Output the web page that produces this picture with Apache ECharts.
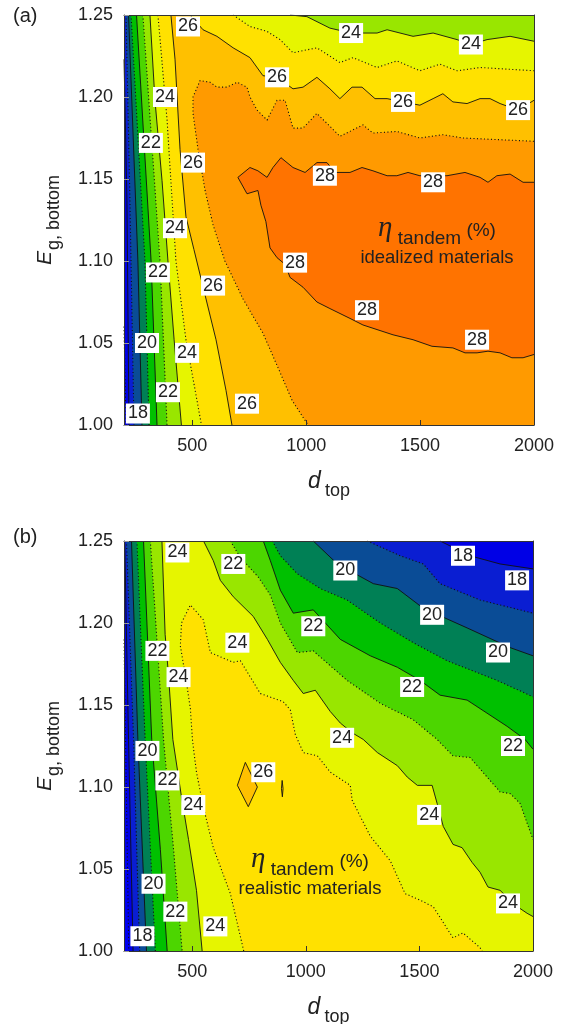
<!DOCTYPE html>
<html>
<head>
<meta charset="utf-8">
<script src="https://cdn.jsdelivr.net/npm/echarts@6/dist/echarts.min.js"></script>
<style>
html,body{margin:0;padding:0;background:#fff}
#main{width:568px;height:1024px}
</style>
</head>
<body>
<div id="main"></div>
<script>
// colour of each 1 % band, keyed by its lower bound
var bandColors = {16:'#0000f0',17:'#0000e6',18:'#0a1ed2',19:'#0a4c96',20:'#008055',21:'#00c000',
                  22:'#4cd600',23:'#99e600',24:'#e6f500',25:'#ffe100',26:'#ffc000',27:'#ff9a00',28:'#ff7300'};
var xTicks = [500, 1000, 1500, 2000];
var yTicks = [1.00, 1.05, 1.10, 1.15, 1.20, 1.25];
var X0 = 200, X1 = 2000, Y0 = 1.00, Y1 = 1.25;

// ---- (a) idealized materials: contour lines [d_top, Eg] ----
var a17 = [[200,1.06],[209,1.00]];
var a18 = [[200,1.223],[213,1.137],[222,1.00]];
var a19 = [[209,1.25],[226,1.137],[244,1.00]];
var a20 = [[220,1.25],[261,1.10],[279,1.00]];
var a21 = [[231,1.25],[292,1.10],[310,1.00]];
var a22 = [[255,1.25],[319,1.10],[345,1.00]];
var a23 = [[283,1.25],[358,1.10],[389,1.00]];
var a24L = [[314,1.25],[336,1.198],[367,1.149],[393,1.10],[420,1.052],[452,1.00]];
var a24T = [[929,1.25],[1003,1.249],[1104,1.242],[1197,1.239],[1311,1.239],[1355,1.241],[1469,1.237],[1557,1.239],
            [1662,1.235],[1723,1.232],[1794,1.235],[1895,1.237],[2000,1.234]];
var a25L = [[349,1.25],[389,1.186],[428,1.10],[472,1.052],[540,1.00]];
var a25T = [[679,1.25],[753,1.243],[828,1.24],[885,1.235],[942,1.227],[1047,1.23],[1148,1.221],[1205,1.224],
            [1311,1.218],[1398,1.222],[1499,1.216],[1587,1.22],[1662,1.216],[1763,1.218],[2000,1.216]];
var a26L = [[406,1.25],[424,1.223],[446,1.168],[472,1.127],[507,1.107],[551,1.082],[604,1.052],[648,1.021],[674,1.00]];
var a26T = [[490,1.25],[547,1.241],[608,1.237],[679,1.23],[753,1.224],[810,1.213],[872,1.212],[942,1.205],[986,1.206],
            [1047,1.212],[1104,1.205],[1148,1.199],[1201,1.206],[1245,1.206],[1302,1.199],[1355,1.199],[1425,1.197],
            [1499,1.195],[1557,1.199],[1600,1.202],[1644,1.197],[1706,1.196],[1763,1.199],[1807,1.199],[1851,1.196],
            [1930,1.192],[2000,1.198]];
var a27 = [[2000,1.173],[1688,1.175],[1600,1.177],[1499,1.175],[1398,1.179],[1293,1.178],[1249,1.183],[1148,1.176],
           [1047,1.19],[986,1.181],[942,1.181],[907,1.198],[872,1.198],[828,1.186],[784,1.192],[753,1.2],[740,1.206],
           [696,1.209],[652,1.206],[608,1.206],[578,1.209],[534,1.21],[503,1.2],[503,1.19],[525,1.168],[556,1.143],
           [591,1.122],[643,1.10],[722,1.077],[810,1.056],[876,1.035],[938,1.015],[1008,1.00]];
var a28 = [[2000,1.148],[1952,1.148],[1895,1.153],[1837,1.152],[1798,1.148],[1763,1.151],[1697,1.154],[1618,1.152],
           [1557,1.152],[1499,1.152],[1447,1.154],[1398,1.152],[1355,1.152],[1293,1.155],[1245,1.157],[1192,1.154],
           [1126,1.154],[1091,1.16],[1047,1.16],[995,1.154],[942,1.157],[889,1.163],[854,1.157],[828,1.151],[788,1.155],
           [753,1.157],[700,1.151],[740,1.141],[788,1.143],[801,1.134],[823,1.124],[841,1.108],[872,1.102],[907,1.098],
           [929,1.09],[986,1.084],[1047,1.075],[1104,1.071],[1192,1.065],[1249,1.061],[1381,1.055],[1469,1.052],
           [1552,1.048],[1644,1.047],[1697,1.044],[1750,1.044],[1798,1.045],[1851,1.044],[1903,1.041],[1952,1.041],[2000,1.043]];
// contour labels [d_top, Eg, level]
var aLabels = [[481,1.243,26],[380,1.20,24],[318,1.172,22],[503,1.16,26],[424,1.12,24],[349,1.093,22],[591,1.085,26],
               [301,1.05,20],[477,1.044,24],[393,1.02,22],[740,1.013,26],[261,1.007,18],[1197,1.239,24],[1723,1.232,24],
               [872,1.212,26],[1425,1.197,26],[1930,1.192,26],[1082,1.152,28],[1557,1.148,28],[951,1.099,28],
               [1267,1.07,28],[1750,1.052,28]];

// ---- (b) realistic materials ----
var b17 = [[200,1.19],[210,1.10],[221,1.00]];
var b18L = [[203,1.25],[220,1.129],[240,1.00]];
var b19L = [[211,1.25],[242,1.129],[269,1.00]];
var b20L = [[233,1.25],[261,1.129],[299,1.00]];
var b21L = [[257,1.25],[293,1.129],[338,1.00]];
var b22L = [[286,1.25],[322,1.129],[360,1.062],[390,1.00]];
var b23L = [[316,1.25],[374,1.129],[418,1.062],[456,1.00]];
var b24L = [[367,1.25],[381,1.193],[396,1.168],[415,1.129],[453,1.094],[484,1.068],[519,1.037],[544,1.00]];
var b18T = [[1591,1.25],[1723,1.241],[1855,1.236],[2000,1.233]];
var b19T = [[1270,1.25],[1416,1.241],[1517,1.236],[1591,1.224],[1767,1.214],[2000,1.206]];
var b20T = [[1033,1.25],[1139,1.236],[1297,1.224],[1403,1.221],[1517,1.209],[1710,1.197],[1899,1.185],[2000,1.18]];
var b21T = [[853,1.25],[888,1.241],[963,1.23],[1064,1.221],[1182,1.214],[1328,1.2],[1473,1.188],[1622,1.177],
            [1842,1.165],[2000,1.155]];
var b22T = [[813,1.25],[844,1.238],[888,1.22],[945,1.206],[1033,1.208],[1152,1.19],[1284,1.18],[1403,1.173],
            [1503,1.165],[1591,1.156],[1710,1.153],[1886,1.137],[1965,1.129],[2000,1.123]];
var b23T = [[668,1.25],[712,1.24],[791,1.228],[844,1.217],[888,1.2],[963,1.182],[1033,1.183],[1182,1.165],[1328,1.151],
            [1473,1.141],[1578,1.129],[1648,1.119],[1723,1.118],[1855,1.097],[1899,1.096],[1943,1.09],[1974,1.078],[2000,1.068]];
var b24T = [[550,1.25],[593,1.238],[624,1.226],[681,1.216],[769,1.204],[831,1.19],[888,1.176],[945,1.165],[989,1.157],
            [1042,1.159],[1108,1.146],[1152,1.139],[1205,1.133],[1253,1.129],[1315,1.121],[1403,1.113],[1447,1.106],
            [1491,1.101],[1556,1.101],[1578,1.09],[1605,1.076],[1648,1.065],[1688,1.063],[1732,1.054],[1767,1.048],
            [1802,1.039],[1855,1.037],[1921,1.028],[1974,1.023],[2000,1.021]];
var b25 = [[727,1.00],[668,1.035],[593,1.063],[549,1.088],[519,1.109],[501,1.129],[492,1.148],[470,1.168],[448,1.186],
           [453,1.20],[492,1.211],[549,1.202],[580,1.182],[681,1.176],[712,1.177],[800,1.157],[901,1.152],[932,1.147],
           [954,1.132],[989,1.121],[1051,1.119],[1108,1.109],[1196,1.101],[1204,1.092],[1240,1.082],[1284,1.07],
           [1372,1.055],[1437,1.035],[1503,1.031],[1561,1.027],[1648,1.008],[1692,1.011],[1767,1.002],[1776,1.00]];
var b26 = [[734,1.115],[787,1.10],[747,1.088],[699,1.101],[734,1.115]];
var b26s = [[896,1.104],[900,1.099],[897,1.094],[893,1.099],[896,1.104]];
var bLabels = [[435,1.243,24],[681,1.236,22],[1174,1.232,20],[1692,1.241,18],[1930,1.226,18],[1033,1.198,22],
               [1556,1.205,20],[699,1.188,24],[1846,1.182,20],[347,1.183,22],[440,1.167,24],[1468,1.161,22],
               [1160,1.13,24],[1912,1.125,22],[303,1.122,20],[813,1.109,26],[391,1.104,22],[505,1.089,24],
               [1543,1.083,24],[330,1.041,20],[1890,1.029,24],[426,1.024,22],[602,1.015,24],[281,1.009,18]];

// superlevel regions built from the contour pieces
function fullBox(){ return [[X0,Y0],[X1,Y0],[X1,Y1],[X0,Y1]]; }
function edgeLeft(line){ return line.concat([[X1,Y0],[X1,Y1],[X0,Y1]]); }
function leftTop(left, top){ return left.concat([[X1,Y0]], top.slice().reverse()); }
function toRight(line){ return line.concat([[X1,Y0]]); }

var polysA = [
  {lv:16, pts:fullBox()}, {lv:17, pts:edgeLeft(a17)}, {lv:18, pts:edgeLeft(a18)}, {lv:19, pts:edgeLeft(a19)},
  {lv:20, pts:edgeLeft(a20)}, {lv:21, pts:edgeLeft(a21)}, {lv:22, pts:edgeLeft(a22)}, {lv:23, pts:edgeLeft(a23)},
  {lv:24, pts:leftTop(a24L,a24T)}, {lv:25, pts:leftTop(a25L,a25T)}, {lv:26, pts:leftTop(a26L,a26T)},
  {lv:27, pts:toRight(a27)}, {lv:28, pts:a28}
];
var polysB = [
  {lv:16, pts:fullBox()}, {lv:17, pts:edgeLeft(b17)}, {lv:18, pts:leftTop(b18L,b18T)}, {lv:19, pts:leftTop(b19L,b19T)},
  {lv:20, pts:leftTop(b20L,b20T)}, {lv:21, pts:leftTop(b21L,b21T)}, {lv:22, pts:leftTop(b22L,b22T)},
  {lv:23, pts:leftTop(b23L,b23T)}, {lv:24, pts:leftTop(b24L,b24T)}, {lv:25, pts:b25}, {lv:26, pts:b26}, {lv:26, pts:b26s}
];
var solidA = [a18,a20,a22,a24L,a24T,a26L,a26T,a28];
var dottedA = [a17,a19,a21,a23,a25L,a25T,a27];
var solidB = [b18L,b18T,b20L,b20T,b22L,b22T,b24L,b24T,b26,b26s];
var dottedB = [b17,b19L,b19T,b21L,b21T,b23L,b23T,b25];

var FONT = 'Liberation Sans, Arial, Helvetica, sans-serif';
var TXT = '#222';

function fillSeries(i, polys){
  return {
    type:'custom', xAxisIndex:i, yAxisIndex:i, silent:true, z:1,
    data: polys.map(function(p, k){ return [1000, 1.1, k]; }),
    renderItem: function(params, api){
      var p = polys[params.dataIndex];
      return {type:'polygon', shape:{points:p.pts.map(function(q){ return api.coord(q); })},
              style:{fill:bandColors[p.lv], stroke:null}};
    }
  };
}
function lineSeries(i, list, dotted){
  return {
    type:'lines', coordinateSystem:'cartesian2d', xAxisIndex:i, yAxisIndex:i, polyline:true, silent:true, z:3,
    lineStyle:{color:'#111', width:dotted ? 1.1 : 0.9, opacity:1, type: dotted ? [1.1,2.4] : 'solid'},
    data: list.map(function(c){ return {coords:c}; })
  };
}
// contour numbers drawn as white-boxed text at their data position
function labelSeries(i, labels){
  return {
    type:'custom', xAxisIndex:i, yAxisIndex:i, silent:true, z:5,
    data: labels,
    renderItem: function(params, api){
      var p = api.coord([api.value(0), api.value(1)]);
      return {type:'text', x:p[0], y:p[1],
              style:{text:String(api.value(2)), align:'center', verticalAlign:'middle',
                     fontSize:18, fontFamily:FONT, fill:TXT, backgroundColor:'#fff', padding:[2,2,0,2]}};
    }
  };
}
function xAx(i){
  return [{
    gridIndex:i, type:'value', min:X0, max:X1, z:10,
    axisLine:{show:true, onZero:false, lineStyle:{color:'#333', width:1}},
    splitLine:{show:false},
    axisTick:{show:true, inside:true, length:5, customValues:xTicks, lineStyle:{color:'#333'}},
    axisLabel:{customValues:xTicks, fontSize:18, color:TXT, fontFamily:FONT, margin:12,
               formatter:function(v){ return String(v); }},
    name:'{i|d}{s|top}', nameLocation:'middle', nameGap:45,
    nameTextStyle:{rich:{
      i:{fontSize:23, fontStyle:'italic', fontFamily:FONT, color:TXT, padding:[0,4,7,0], verticalAlign:'bottom'},
      s:{fontSize:18, fontFamily:FONT, color:TXT, verticalAlign:'bottom'}}}
  }, {
    gridIndex:i, type:'value', min:X0, max:X1, position:'top', z:10,
    axisLine:{show:true, onZero:false, lineStyle:{color:'#333', width:1}},
    axisTick:{show:false}, axisLabel:{show:false}, splitLine:{show:false}
  }];
}
function yAx(i){
  return [{
    gridIndex:i, type:'value', min:Y0, max:Y1, z:10,
    axisLine:{show:true, onZero:false, lineStyle:{color:'#333', width:1}},
    splitLine:{show:false},
    axisTick:{show:true, inside:true, length:5, customValues:yTicks, lineStyle:{color:'#999'}},
    axisLabel:{customValues:yTicks, fontSize:18, color:TXT, fontFamily:FONT, margin:11,
               formatter:function(v){ return v.toFixed(2); }},
    name:'{i|E}{s|g, bottom}', nameLocation:'middle', nameGap:61, nameRotate:90,
    nameTextStyle:{rich:{
      i:{fontSize:21, fontStyle:'italic', fontFamily:FONT, color:TXT, padding:[0,1,7,0], verticalAlign:'bottom'},
      s:{fontSize:18, fontFamily:FONT, color:TXT, verticalAlign:'bottom'}}}
  }, {
    gridIndex:i, type:'value', min:Y0, max:Y1, position:'right', z:10,
    axisLine:{show:true, onZero:false, lineStyle:{color:'#333', width:1}},
    axisTick:{show:false}, axisLabel:{show:false}, splitLine:{show:false}
  }];
}

function etaText(x, y, sub){
  return [{
    type:'text', x:x, y:y, z:20,
    style:{text:'{e|\u03b7}{t| tandem }{p|(%)}', align:'center', verticalAlign:'middle',
      textAlign:'center', textVerticalAlign:'middle',
      rich:{
        e:{fontSize:29, fontStyle:'italic', fontFamily:'Liberation Serif, serif', fill:TXT, color:TXT, padding:[0,0,6,0], verticalAlign:'bottom'},
        t:{fontSize:19, fontFamily:FONT, fill:TXT, color:TXT, verticalAlign:'bottom'},
        p:{fontSize:19, fontFamily:FONT, fill:TXT, color:TXT, padding:[0,0,8,0], verticalAlign:'bottom'}}}
  }, {
    type:'text', x:x, y:y + 27, z:20,
    style:{text:sub, fontSize:18.5, fontFamily:FONT, fill:TXT, align:'center', verticalAlign:'middle',
           textAlign:'center', textVerticalAlign:'middle'}
  }];
}

var chart = echarts.init(document.getElementById('main'));
chart.setOption({
  animation:false,
  backgroundColor:'#fff',
  grid:[{left:124, top:15, width:410, height:410, containLabel:false, outerBoundsMode:'none'},
        {left:124, top:541, width:409, height:410, containLabel:false, outerBoundsMode:'none'}],
  xAxis: xAx(0).concat(xAx(1)),
  yAxis: yAx(0).concat(yAx(1)),
  series:[
    fillSeries(0, polysA), lineSeries(0, solidA, false), lineSeries(0, dottedA, true), labelSeries(0, aLabels),
    fillSeries(2, polysB), lineSeries(2, solidB, false), lineSeries(2, dottedB, true), labelSeries(2, bLabels)
  ],
  graphic:[
    {type:'text', left:13, top:6, style:{text:'(a)', fontSize:20, fontFamily:FONT, fill:TXT}},
    {type:'text', left:13, top:527, style:{text:'(b)', fontSize:20, fontFamily:FONT, fill:TXT}}
  ].concat(etaText(437, 231, 'idealized materials'), etaText(310, 862, 'realistic materials'))
});
</script>
</body>
</html>
